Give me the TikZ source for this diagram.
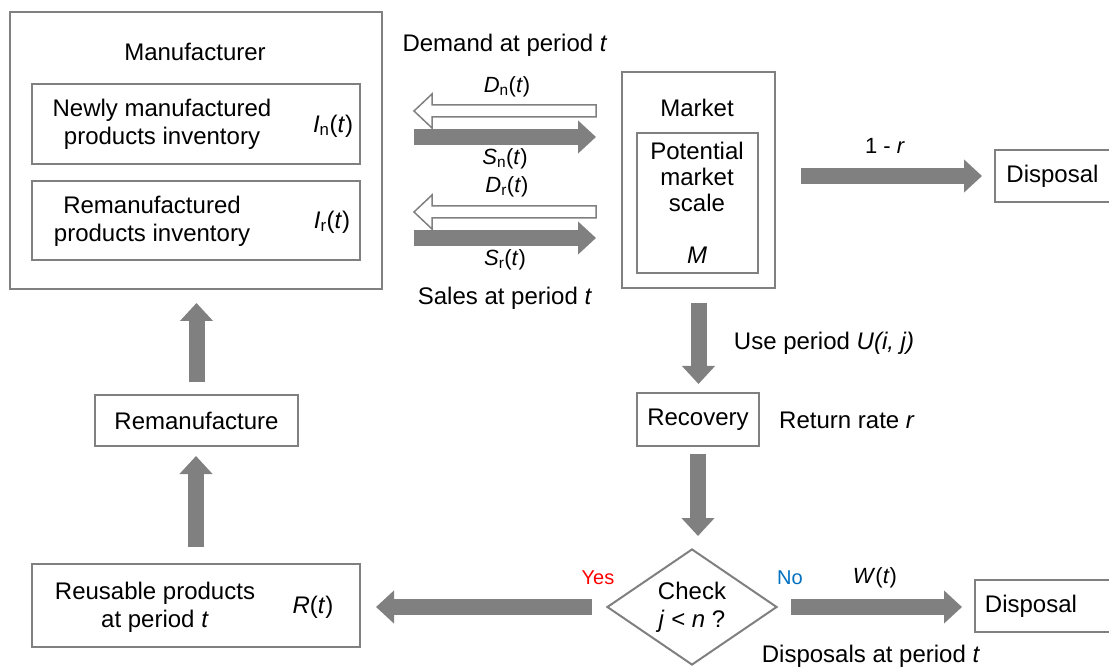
\documentclass[tikz,border=0pt]{standalone}
\usepackage{fontspec}
\setmainfont{Liberation Sans}
\usetikzlibrary{arrows.meta, shapes.geometric, calc}
\tikzset{
	every node/.style={font=\fontsize{24}{28}\selectfont},
	box/.style={draw=gray, line width=2pt, inner sep=0pt},
	flowlabel/.style={font=\fontsize{22}{26}\selectfont},
	fat/.style={draw=gray, line width=16pt, -{Triangle[length=18pt, width=32pt]}},
	hollow/.style={draw=gray, fill=white, line width=1.5pt,
		to path={let \p1=(\tikztostart), \p2=(\tikztotarget) in
			(\x1,\y1+6pt) -- (\x2+18pt,\y1+6pt) -- (\x2+18pt,\y1+17pt) -- (\x2,\y1)
			-- (\x2+18pt,\y1-17pt) -- (\x2+18pt,\y1-6pt) -- (\x1,\y1-6pt) -- cycle}}
}

\begin{document}
\begin{tikzpicture}[x=1pt, y=-1pt]
	\useasboundingbox (0,0) rectangle (1109,668);

	% manufacturer side
	\node[box, minimum width=372pt, minimum height=277pt] (manu) at (196,150.5) {};
	\node (manuT) at (195,52) {Manufacturer};
	\node[box, minimum width=328pt, minimum height=80pt] (newinv) at (196,124) {};
	\node[align=center] (newinvT) at (162,124) {Newly manufactured\\products inventory};
	\node (In) at (333,126) {\textit{I}\textsubscript{n}(\textit{t})};
	\node[box, minimum width=328pt, minimum height=79pt] (reminv) at (196,220.5) {};
	\node[align=center] (reminvT) at (152,221) {Remanufactured\\products inventory};
	\node (Ir) at (332,222) {\textit{I}\textsubscript{r}(\textit{t})};

	% market side
	\node[box, minimum width=153pt, minimum height=216pt] (market) at (698.5,180) {};
	\node (marketT) at (697,108) {Market};
	\node[box, minimum width=121pt, minimum height=140pt] (scale) at (697.5,203) {};
	\node[align=center, font=\fontsize{24}{26}\selectfont] (scaleT) at (697,177) {Potential\\market\\scale};
	\node (M) at (697,255) {\textit{M}};

	\node[box, minimum width=124pt, minimum height=52pt] (disp1) at (1057,176) {};
	\node (disp1T) at (1052.5,176) {Disposal};
	\node[box, minimum width=122pt, minimum height=53pt] (recov) at (698,419.5) {Recovery};
	\node[draw=gray, line width=2pt, diamond, shape aspect=1.47, minimum width=170pt,
		minimum height=116pt, inner sep=0pt, align=center] (check) at (692,607) {Check\\\textit{j} < \textit{n} ?};
	\node[box, minimum width=144pt, minimum height=52pt] (disp2) at (1047,606) {};
	\node (disp2T) at (1031,606) {Disposal};

	% recovery loop
	\node[box, minimum width=328pt, minimum height=83pt] (reuse) at (196,605.5) {};
	\node[align=center] (reuseT) at (155,607) {Reusable products\\at period \textit{t}};
	\node (Rt) at (313,607) {\textit{R}(\textit{t})};
	\node[box, minimum width=203pt, minimum height=51pt] (reman) at (196.5,420.5) {Remanufacture};

	% demand and sales flows
	\coordinate (rowDn) at (0,111);
	\coordinate (rowSn) at (0,137);
	\coordinate (rowDr) at (0,212);
	\coordinate (rowSr) at (0,238);
	\coordinate (dnR) at ($(market.west |- rowDn)+(-25,0)$);
	\coordinate (dnL) at ($(manu.east |- rowDn)+(31,0)$);
	\coordinate (drR) at ($(market.west |- rowDr)+(-25,0)$);
	\coordinate (drL) at ($(manu.east |- rowDr)+(31,0)$);
	\draw[hollow] (dnR) to (dnL);
	\draw[hollow] (drR) to (drL);
	\draw[fat, shorten <=31pt, shorten >=25pt] (manu.east |- rowSn) -- (market.west |- rowSn);
	\draw[fat, shorten <=31pt, shorten >=25pt] (manu.east |- rowSr) -- (market.west |- rowSr);

	\node (demand) at (505,45) {Demand at period \textit{t}};
	\node (sales) at (505,298) {Sales at period \textit{t}};
	\node[flowlabel] (Dn) at (507,87) {\textit{D}\textsubscript{n}(\textit{t})};
	\node[flowlabel] (Sn) at (505,159) {\textit{S}\textsubscript{n}(\textit{t})};
	\node[flowlabel] (Dr) at (507,187) {\textit{D}\textsubscript{r}(\textit{t})};
	\node[flowlabel] (Sr) at (505,260) {\textit{S}\textsubscript{r}(\textit{t})};

	% product flows
	\draw[fat, shorten <=25pt, shorten >=12pt] (market.east |- disp1) -- (disp1.west);
	\draw[fat, shorten <=14pt, shorten >=8pt] (market.south) -- (market.south |- recov.north);
	\draw[fat, shorten <=7pt, shorten >=12pt] (recov.south) -- (recov.south |- check.north);
	\draw[fat, shorten <=14pt, shorten >=15pt] (check.west) -- (reuse.east |- check.west);
	\draw[fat, shorten <=13pt, shorten >=12pt] (check.east) -- (disp2.west |- check.east);
	\draw[fat, shorten <=16pt, shorten >=9pt] (reuse.north) -- (reuse.north |- reman.south);
	\draw[fat, shorten <=12pt, shorten >=13pt] (reman.north) -- (reman.north |- manu.south);

	\node[flowlabel] (oneminus) at (885,146) {1 - \textit{r}};
	\node (useperiod) at (824,343) {Use period \textit{U(i, j)}};
	\node (retrate) at (847,420) {Return rate \textit{r}};
	\node[font=\fontsize{20}{24}\selectfont, text=red] (yes) at (598,578) {Yes};
	\node[font=\fontsize{20}{24}\selectfont, text={rgb,255:red,0;green,112;blue,192}] (no) at (790,578) {No};
	\node[flowlabel] (Wt) at (875,578) {\textit{W}(\textit{t})};
	\node (disposals) at (871,656) {Disposals at period \textit{t}};
\end{tikzpicture}
\end{document}
